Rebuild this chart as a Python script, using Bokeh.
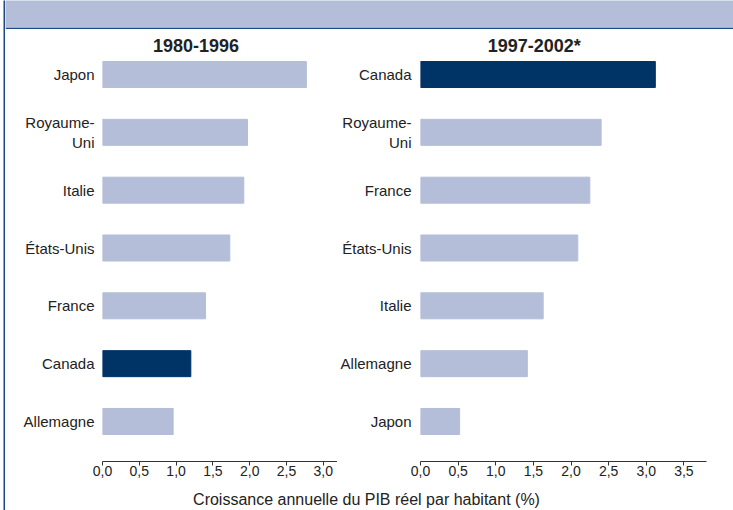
from bokeh.plotting import figure
from bokeh.models import (FactorRange, Range1d, FixedTicker, CustomJSTickFormatter,
                          Label, ColumnDataSource)
from bokeh.layouts import column, row
from bokeh.embed import file_html
from bokeh.resources import INLINE

# ---- data ----
left_title = "1980-1996"
left_countries = ["Japon", "Royaume-\nUni", "Italie", "États-Unis", "France", "Canada", "Allemagne"]
left_values = [2.77, 1.97, 1.92, 1.73, 1.40, 1.20, 0.96]
left_ticks = [0.0, 0.5, 1.0, 1.5, 2.0, 2.5, 3.0]

right_title = "1997-2002*"
right_countries = ["Canada", "Royaume-\nUni", "France", "États-Unis", "Italie", "Allemagne", "Japon"]
right_values = [3.12, 2.40, 2.25, 2.09, 1.63, 1.42, 0.52]
right_ticks = [0.0, 0.5, 1.0, 1.5, 2.0, 2.5, 3.0, 3.5]

x_label = "Croissance annuelle du PIB réel par habitant (%)"
highlight = "Canada"

LIGHT = "#b4bed8"
DARK = "#003366"
BAND = "#b4bed8"
LINE = "#1d4a84"
TXT = "#222222"
FONT = "Liberation Sans"


def panel(title, countries, values, ticks, x_end, width, border_left, border_right,
          standoff, title_x):
    factors = list(reversed(countries))
    yr = FactorRange(factors=factors, range_padding=0.192, range_padding_units="absolute")
    p = figure(width=width, height=457, y_range=yr, x_range=Range1d(0, x_end),
               output_backend="svg", toolbar_location=None,
               min_border_left=border_left, min_border_right=border_right,
               min_border_top=5, min_border_bottom=25)
    src = ColumnDataSource(dict(
        country=countries, value=values,
        color=[DARK if c == highlight else LIGHT for c in countries]))
    p.hbar(y="country", left=0, right="value", height=0.45, color="color", source=src)
    p.outline_line_color = None
    p.grid.visible = False
    p.background_fill_color = "white"
    p.border_fill_color = "white"

    ya = p.yaxis[0]
    ya.axis_line_color = None
    ya.major_tick_line_color = None
    ya.major_tick_out = 0
    ya.major_tick_in = 0
    ya.minor_tick_line_color = None
    ya.major_label_standoff = standoff
    ya.major_label_text_font = FONT
    ya.major_label_text_font_size = "15px"
    ya.major_label_text_color = TXT

    xa = p.xaxis[0]
    xa.ticker = FixedTicker(ticks=ticks)
    xa.formatter = CustomJSTickFormatter(code="return tick.toFixed(1).replace('.', ',');")
    xa.axis_line_color = "#333333"
    xa.major_tick_line_color = "#333333"
    xa.major_tick_out = 4
    xa.major_tick_in = 0
    xa.minor_tick_line_color = None
    xa.major_label_standoff = 0
    xa.major_label_text_font = FONT
    xa.major_label_text_font_size = "14px"
    xa.major_label_text_color = TXT

    p.add_layout(Label(x=title_x, y=416, x_units="screen", y_units="screen", text=title,
                       text_align="center", text_baseline="middle",
                       text_font=FONT, text_font_size="18px", text_font_style="bold",
                       text_color=TXT))
    return p


left = panel(left_title, left_countries, left_values, left_ticks, 3.193,
             332, 97, 0, 8, 93.5)
right = panel(right_title, right_countries, right_values, right_ticks, 3.8,
              396, 83, 27, 9, 113.7)

# left frame rule (decorative), full height
strip = figure(width=5, height=510, output_backend="svg", toolbar_location=None,
               min_border_left=3, min_border_right=0, min_border_top=0,
               min_border_bottom=0, x_axis_type=None, y_axis_type=None)
strip.outline_line_color = None
strip.grid.visible = False
strip.background_fill_color = LINE
strip.border_fill_color = "white"

# header band (decorative): light band with a dark rule under it
header = figure(width=728, height=29, output_backend="svg", toolbar_location=None,
                min_border_left=0, min_border_right=0, min_border_top=0,
                min_border_bottom=2, x_axis_type=None, y_axis_type=None)
header.outline_line_color = None
header.grid.visible = False
header.background_fill_color = BAND
header.border_fill_color = LINE

footer = figure(width=728, height=24, output_backend="svg", toolbar_location=None,
                min_border=0, x_axis_type=None, y_axis_type=None)
footer.outline_line_color = None
footer.grid.visible = False
footer.add_layout(Label(x=361, y=11, x_units="screen", y_units="screen", text=x_label,
                        text_align="center", text_baseline="middle",
                        text_font=FONT, text_font_size="16px", text_color=TXT))

page = row(strip, column(header, row(left, right), footer))

open("out.html", "w").write(file_html(page, INLINE))
